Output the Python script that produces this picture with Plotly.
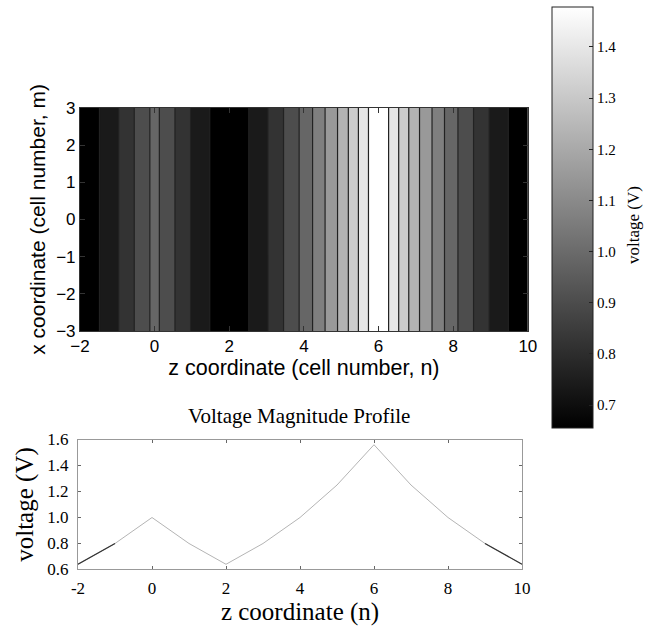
import plotly.graph_objects as go

# ---- data ----
z_cells = [-2, -1, 0, 1, 2, 3, 4, 5, 6, 7, 8, 9, 10]
x_cells = [-3, -2, -1, 0, 1, 2, 3]
voltage = [0.64, 0.80, 1.00, 0.80, 0.64, 0.80, 1.00, 1.25, 1.56, 1.25, 1.00, 0.80, 0.64]
cbar_ticks = [0.7, 0.8, 0.9, 1.0, 1.1, 1.2, 1.3, 1.4]
top_xticks = [-2, 0, 2, 4, 6, 8, 10]
top_yticks = [-3, -2, -1, 0, 1, 2, 3]
bot_xticks = [-2, 0, 2, 4, 6, 8, 10]
bot_xlabels = ["-2", "0", "2", "4", "6", "8", "10"]
bot_yticks = [0.6, 0.8, 1.0, 1.2, 1.4, 1.6]

W, H = 668, 627
def px(x): return x / W
def py(y): return 1 - y / H

zgrid = [voltage[:] for _ in x_cells]
vmin, vmax = min(voltage), max(voltage)
nlev = 11
step = (vmax - vmin) / nlev

gray = [[0, "rgb(0,0,0)"], [1, "rgb(255,255,255)"]]
SANS = "Liberation Sans"
SERIF = "Liberation Serif"

fig = go.Figure()

fig.add_trace(go.Contour(
    x=z_cells, y=x_cells, z=zgrid,
    colorscale=gray, showscale=False,
    autocontour=False,
    contours=dict(start=vmin + step, end=vmax - step, size=step, coloring="fill"),
    line=dict(color="#222222", width=1.2),
    xaxis="x", yaxis="y", hoverinfo="skip",
))

# colorbar (smooth)
fig.add_trace(go.Scatter(
    x=[None], y=[None], mode="markers", xaxis="x", yaxis="y",
    marker=dict(color=[vmin], cmin=0.655, cmax=1.478, colorscale=gray, showscale=True,
                colorbar=dict(
                    x=px(558), xanchor="left", y=py(-2), yanchor="top",
                    len=434 / H, lenmode="fraction", thickness=41,
                    outlinewidth=1, outlinecolor="#222",
                    ticks="inside", ticklen=4, tickcolor="#222",
                    tickvals=cbar_ticks, tickformat=".1f",
                    tickfont=dict(family=SERIF, size=15, color="black"),
                    xpad=0, ypad=0,
                )),
    showlegend=False, hoverinfo="skip",
))

# lower line plot
fig.add_trace(go.Scatter(
    x=z_cells, y=voltage, mode="lines",
    line=dict(color="#b4b4b4", width=1),
    xaxis="x2", yaxis="y2", showlegend=False, hoverinfo="skip",
))
fig.add_trace(go.Scatter(
    x=z_cells[:2], y=voltage[:2], mode="lines",
    line=dict(color="#333333", width=1.2),
    xaxis="x2", yaxis="y2", showlegend=False, hoverinfo="skip",
))
fig.add_trace(go.Scatter(
    x=z_cells[-2:], y=voltage[-2:], mode="lines",
    line=dict(color="#333333", width=1.2),
    xaxis="x2", yaxis="y2", showlegend=False, hoverinfo="skip",
))

fig.update_layout(
    width=W, height=H,
    margin=dict(l=0, r=0, t=0, b=0),
    paper_bgcolor="white", plot_bgcolor="white",
    xaxis=dict(
        domain=[px(72), px(533)], range=[-2, 10], tickvals=top_xticks,
        showline=True, mirror="ticks", linecolor="#333", linewidth=1,
        ticks="inside", ticklen=5, tickcolor="#333", showgrid=False, zeroline=False,
        tickfont=dict(family=SANS, size=17, color="black"),
        title=dict(text="z coordinate (cell number, n)", standoff=0,
                   font=dict(family=SANS, size=21.5, color="black")),
        anchor="y",
    ),
    yaxis=dict(
        domain=[py(332), py(102)], range=[-3, 3], tickvals=top_yticks,
        showline=True, mirror="ticks", linecolor="#333", linewidth=1,
        ticks="inside", ticklen=5, tickcolor="#333", showgrid=False, zeroline=False,
        tickfont=dict(family=SANS, size=17, color="black"),
        title=dict(text="x coordinate (cell number, m)", standoff=4,
                   font=dict(family=SANS, size=21, color="black")),
        anchor="x",
    ),
    xaxis2=dict(
        domain=[px(70), px(527)], range=[-2, 10], tickvals=bot_xticks, ticktext=bot_xlabels,
        showline=True, mirror="ticks", linecolor="#999", linewidth=1,
        ticks="inside", ticklen=3, tickcolor="#666", showgrid=False, zeroline=False,
        tickfont=dict(family=SERIF, size=17, color="black"), ticklabelstandoff=3,
        title=dict(text="z coordinate (n)", standoff=0,
                   font=dict(family=SERIF, size=25, color="black")),
        anchor="y2",
    ),
    yaxis2=dict(
        domain=[py(578), py(444)], range=[0.6, 1.6], tickvals=bot_yticks, tickformat=".1f",
        showline=True, mirror="ticks", linecolor="#999", linewidth=1,
        ticks="inside", ticklen=3, tickcolor="#666", showgrid=False, zeroline=False,
        tickfont=dict(family=SERIF, size=17, color="black"), ticklabelstandoff=5,
        title=dict(text="voltage (V)", standoff=6,
                   font=dict(family=SERIF, size=25, color="black")),
        anchor="x2",
    ),
    annotations=[
        dict(text="Voltage Magnitude Profile", x=px(297), y=py(420), xref="paper", yref="paper",
             showarrow=False, font=dict(family=SERIF, size=21, color="black"),
             xanchor="center", yanchor="middle"),
        dict(text="voltage (V)", x=px(642), y=py(223), xref="paper", yref="paper",
             showarrow=False, textangle=-90, font=dict(family=SERIF, size=17, color="black"),
             xanchor="center", yanchor="middle"),
    ],
)

fig.write_html("out.html")
